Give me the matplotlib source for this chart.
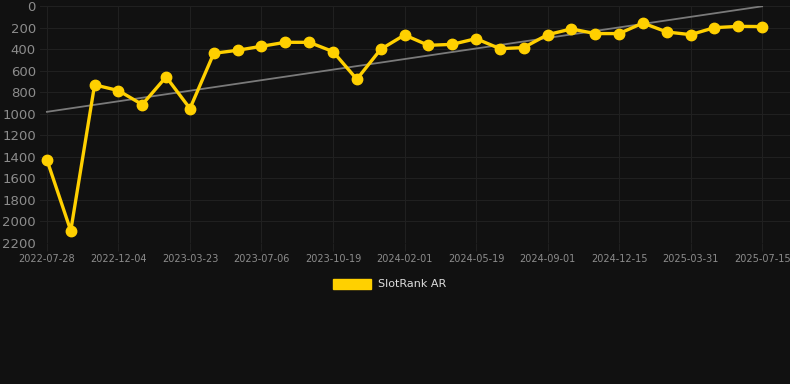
import numpy as np
import matplotlib.pyplot as plt

# dates shown on the x axis (every third point)
dates = ["2022-07-28", "2022-12-04", "2023-03-23", "2023-07-06", "2023-10-19",
         "2024-02-01", "2024-05-19", "2024-09-01", "2024-12-15", "2025-03-31",
         "2025-07-15"]

# rank values
rank = [1428, 2086, 732, 785, 915, 658, 952, 439, 411, 374,
        337, 337, 423, 680, 402, 269, 365, 356, 303, 396,
        386, 266, 213, 256, 256, 158, 241, 266, 201, 189, 191]

bg = "#111111"
gold = "#FFD000"
txt = "#8c8c8c"

fig = plt.figure(figsize=(7.9, 3.84), dpi=100, facecolor=bg)
ax = fig.add_axes([40 / 790, 1 - 243 / 384, 750 / 790, 237 / 384], facecolor=bg)

x = np.arange(len(rank))

# trend line
a, b = np.polyfit(x, rank, 1)
ax.plot(x, a * x + b, color="#7a7a7a", lw=1.3, zorder=2)

ax.plot(x, rank, color=gold, lw=2.4, marker="o", ms=7.5, zorder=3)

ax.set_xlim(-0.29, 31.17)
ax.set_ylim(2200, 0)
ax.set_yticks(range(0, 2201, 200))
ax.set_xticks(x[::3])
ax.set_xticklabels(dates)

ax.grid(True, color="#202020", lw=0.8)
for s in ax.spines.values():
    s.set_visible(False)
ax.tick_params(axis="y", length=0, colors=txt, labelsize=9.5, pad=3)
ax.tick_params(axis="x", length=6, color="#202020", colors=txt, labelsize=7, pad=2)

handle = plt.Rectangle((0, 0), 1, 1, color=gold)
fig.legend([handle], ["SlotRank AR"], loc="center", bbox_to_anchor=(0.493, 1 - 284 / 384),
           frameon=False, labelcolor="#dddddd", fontsize=8, handlelength=3.4,
           handleheight=1.0, handletextpad=0.6)

fig.savefig("out.png", facecolor=bg)
